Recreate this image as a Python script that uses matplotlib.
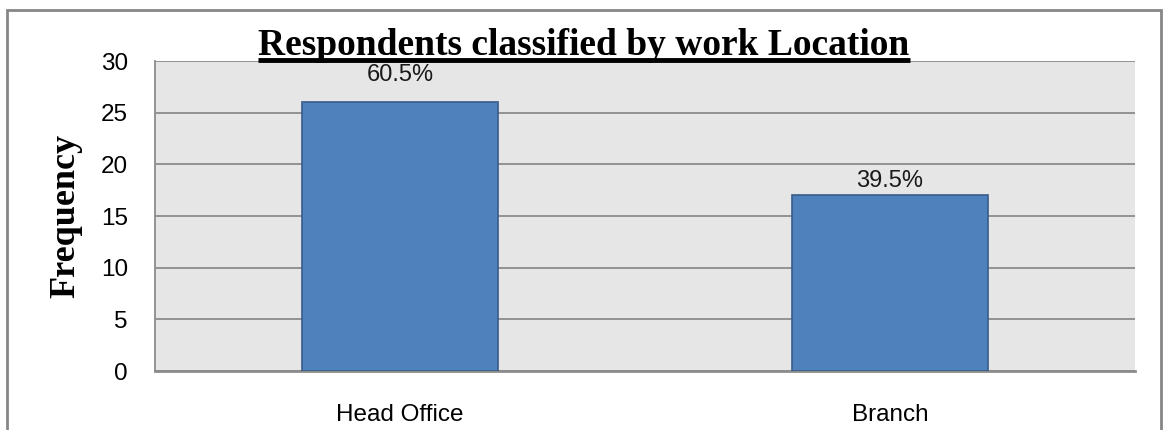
import matplotlib
matplotlib.use("Agg")
import matplotlib.pyplot as plt
from matplotlib.patches import Rectangle
from matplotlib.lines import Line2D

categories = ["Head Office", "Branch"]
frequency = [26, 17]
percent_labels = ["60.5%", "39.5%"]
y_ticks = [0, 5, 10, 15, 20, 25, 30]

title = "Respondents classified by work Location"
ylabel = "Frequency"

sans = ["Liberation Sans Narrow", "Liberation Sans", "DejaVu Sans"]
serif = ["Liberation Serif", "DejaVu Serif"]

fig = plt.figure(figsize=(11.65, 4.3), dpi=100)
ax = fig.add_axes([0.1330, 0.1372, 0.8412, 0.7209])
ax.set_facecolor("#e6e6e6")

x = list(range(len(categories)))
ax.bar(x, frequency, width=0.4, color="#4f81bd", edgecolor="#385d8a",
       linewidth=1.2, zorder=3)

# label offsets (points above bar top) as in the original
offsets = [20, 10]
for xi, v, lab, off in zip(x, frequency, percent_labels, offsets):
    ax.annotate(lab, (xi, v), xytext=(0, off), textcoords="offset points",
                ha="center", va="center", fontsize=17, family=sans,
                color="#1a1a1a", zorder=4)

ax.set_xlim(-0.5, 1.5)
ax.set_ylim(0, 30)
ax.set_yticks(y_ticks)
ax.set_xticks(x)
ax.set_xticklabels(categories, family=sans, fontsize=17.5)
ax.set_yticklabels([str(t) for t in y_ticks], family=sans, fontsize=17.5)
ax.tick_params(axis="both", length=0, colors="black")
ax.tick_params(axis="y", pad=19.5)
ax.tick_params(axis="x", pad=23.5)

ax.grid(axis="y", color="#8c8c8c", linewidth=1.3, zorder=0)
ax.set_axisbelow(True)
for s in ["top", "right"]:
    ax.spines[s].set_visible(False)
ax.spines["left"].set_color("#8c8c8c")
ax.spines["left"].set_linewidth(1.3)
ax.spines["bottom"].set_color("#8c8c8c")
ax.spines["bottom"].set_linewidth(2)

fig.text(66 / 1165, 0.497, ylabel, rotation=90, ha="center", va="center",
         fontsize=26, fontweight="bold", family=serif)

t = fig.text(584 / 1165, 1 - 55 / 430, title, ha="center", va="baseline",
             fontsize=27, fontweight="bold", family=serif)

# underline under the title
fig.canvas.draw()
bb = t.get_window_extent(fig.canvas.get_renderer())
bbf = bb.transformed(fig.transFigure.inverted())
uy = 1 - 59.5 / 430
fig.add_artist(Line2D([bbf.x0, bbf.x1], [uy, uy], transform=fig.transFigure,
                      color="black", linewidth=3.5, solid_capstyle="butt"))

# outer chart frame
fig.add_artist(Rectangle((7 / 1165, -0.05), (1161 - 7) / 1165, 1.05 - 10 / 430,
                         transform=fig.transFigure, fill=False,
                         edgecolor="#868686", linewidth=2))

fig.savefig("out.png", dpi=100)
